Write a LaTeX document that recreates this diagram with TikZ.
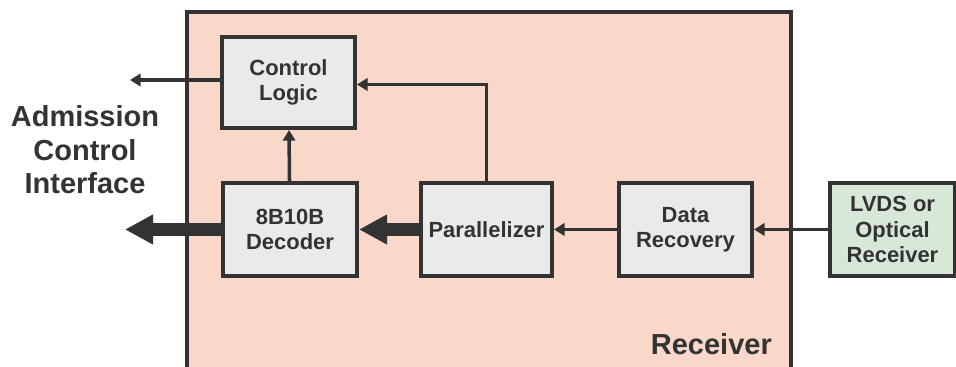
\documentclass[tikz,border=0pt]{standalone}
\usepackage{fontspec}
\setmainfont{Liberation Sans}
\usetikzlibrary{arrows.meta}
\definecolor{rxpink}{HTML}{F9D8C9}
\definecolor{blkgray}{HTML}{E9EBEA}
\definecolor{lvdsgreen}{HTML}{D8E8D8}
\definecolor{ink}{HTML}{333333}
\tikzset{
  blk/.style={draw=ink, line width=2.3pt, fill=blkgray, text=ink, align=center,
    minimum height=1.86cm, font=\bfseries\fontsize{12.5}{14.5}\selectfont},
  thin/.style={draw=ink, line width=2pt, -{Triangle[length=6pt,width=7pt]}},
  thick/.style={draw=ink, line width=7pt, -{Triangle[length=16pt,width=16pt]}},
  biglabel/.style={text=ink, align=center, font=\bfseries\fontsize{16.5}{19}\selectfont}
}
\begin{document}
\begin{tikzpicture}[x=0.02cm,y=-0.02cm]
				\useasboundingbox (0,0) rectangle (956,367);
				% receiver frame, open at the bottom
				\fill[rxpink] (187,12) rectangle (791,370);
				\draw[ink, line width=2.3pt] (187,370) -- (187,12) -- (791,12) -- (791,370);
				\node[biglabel, anchor=base east] (rxlabel) at (778,355) {Receiver};
				\node[biglabel] (aci) at (85,150) {Admission\\Control\\Interface};
				% blocks
				\node[blk, minimum width=2.66cm, minimum height=1.82cm] (ctl) at (288.5,82.5) {Control\\Logic};
				\node[blk, minimum width=2.68cm] (dec) at (290,229.5) {8B10B\\Decoder};
				\node[blk, minimum width=2.62cm] (par) at (486.5,229.5) {Parallelizer};
				\node[blk, minimum width=2.66cm] (rec) at (685.5,229.5) {Data\\Recovery};
				\node[blk, fill=lvdsgreen, minimum width=2.50cm] (lvds) at (892.5,229.5) {LVDS or\\Optical\\Receiver};
				\coordinate (ctlout) at (130,80);
				\coordinate (decout) at (125,229.5);
				% connectors
				\draw[thin] (lvds) -- (rec);
				\draw[thin] (rec) -- (par);
				\draw[thick] (par) -- (dec);
				\draw[thick] (dec.west) -- (decout);
				\draw[thin] (dec) -- (ctl);
				\draw[thin] (par.north) |- ([yshift=-0.04cm]ctl.east);
				\draw[thin] (ctl.west |- ctlout) -- (ctlout);
			\end{tikzpicture}
\end{document}
